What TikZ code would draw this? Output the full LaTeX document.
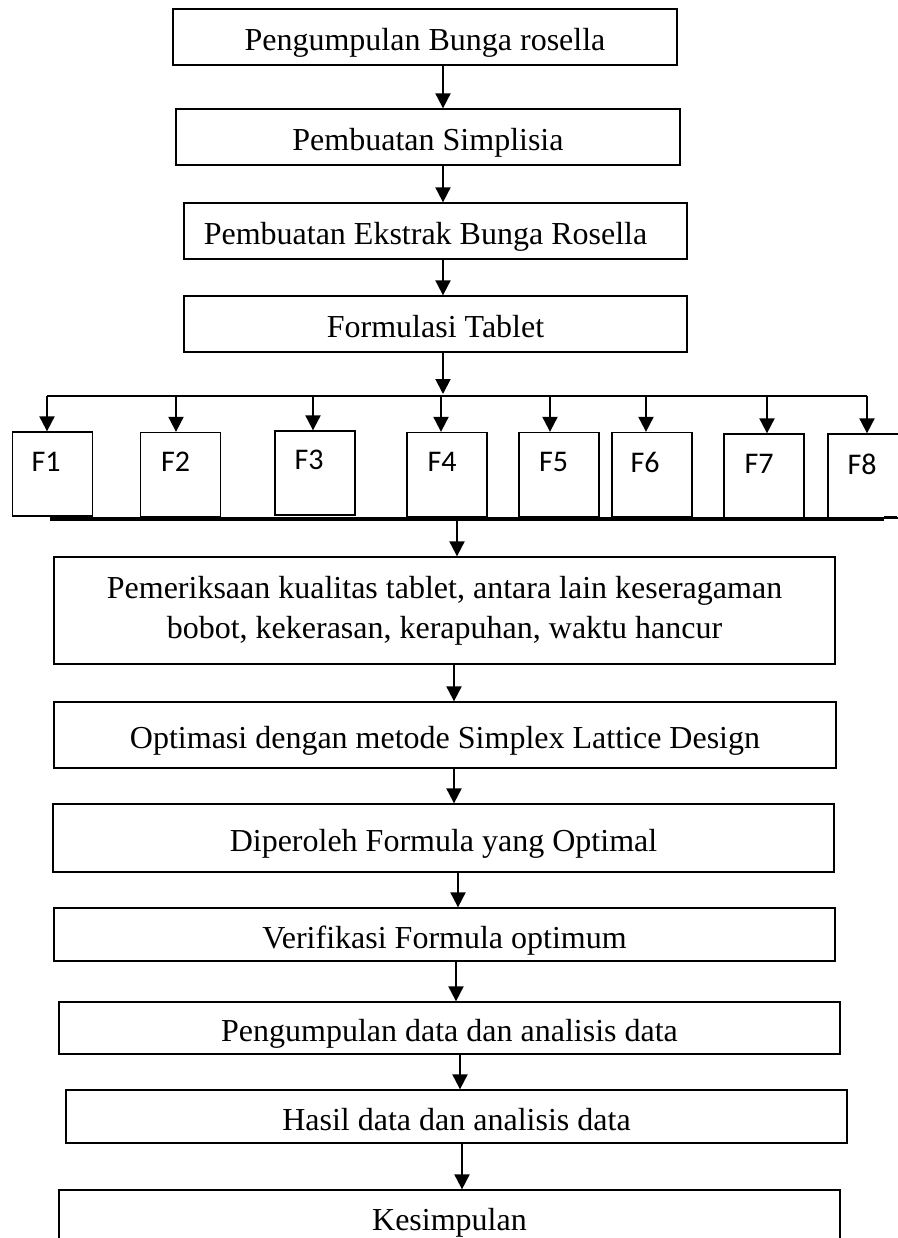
\documentclass[tikz,border=0pt]{standalone}
\usepackage{fontspec}
\setmainfont{Liberation Serif}
\newfontfamily\calib{Carlito}
\usetikzlibrary{arrows.meta}
\begin{document}
\begin{tikzpicture}[x=1pt,y=-1pt,
  boxbase/.style={draw, line width=1.3pt, inner sep=0pt, font=\fontsize{32}{40}\selectfont, align=center},
  box/.style={boxbase, text height=30pt, text depth=3pt},
  fbox/.style={draw, line width=1.3pt, inner sep=0pt, minimum width=80pt, minimum height=84pt},
  flab/.style={font=\calib\fontsize{30}{36}\selectfont, inner sep=0pt},
  arr/.style={line width=2pt, -{Triangle[length=15pt,width=15pt]}},
  ln/.style={line width=2pt},
]
\useasboundingbox (0,0) rectangle (897,1238);

% top chain
\node[box, minimum width=504pt, minimum height=56pt] (b1) at (425,37) {Pengumpulan Bunga rosella};
\node[box, minimum width=504pt, minimum height=56pt] (b2) at (428,137) {Pembuatan Simplisia};
\node[box, minimum width=503pt, minimum height=56pt] (b3) at (435.5,231) {Pembuatan Ekstrak Bunga Rosella\hspace*{20pt}};
\node[box, minimum width=503pt, minimum height=56pt] (b4) at (435.5,324) {Formulasi Tablet};

\coordinate (ax) at (443,0);
\draw[arr] (b1.south -| ax) -- (b2.north -| ax);
\draw[arr] (b2.south -| ax) -- (b3.north -| ax);
\draw[arr] (b3.south -| ax) -- (b4.north -| ax);
\coordinate (bt) at (443,394);
\draw[arr] (b4.south -| ax) -- (bt);

% branch
\coordinate (jl) at (47,396);
\coordinate (jr) at (867,396);
\draw[ln] (jl) -- (jr);

\node[fbox] (f1) at (52.6,474) {};
\node[fbox] (f2) at (180.5,474.5) {};
\node[fbox] (f3) at (315,473) {};
\node[fbox] (f4) at (447,474.5) {};
\node[fbox] (f5) at (559,474.5) {};
\node[fbox] (f6) at (652,474.5) {};
\node[fbox] (f7) at (764,476) {};
\node[fbox] (f8) at (868,476) {};

\node[flab] (t1) at (46,462) {F1};
\node[flab] (t2) at (175.5,462) {F2};
\node[flab] (t3) at (309,459.5) {F3};
\node[flab] (t4) at (442,462) {F4};
\node[flab] (t5) at (553.5,462) {F5};
\node[flab] (t6) at (645,462) {F6};
\node[flab] (t7) at (759,464) {F7};
\node[flab] (t8) at (862,464) {F8};

\foreach \i/\xx in {1/47,2/176,3/313,4/441,5/550,6/646,7/767,8/867}{
  \coordinate (d\i) at (\xx,396);
  \draw[arr] (d\i) -- (f\i.north -| d\i);
}

% thick collecting line
\coordinate (h1) at (50,519);
\coordinate (h2) at (884,519);
\coordinate (h3) at (897,517);
\draw[line width=4pt] (h1) -- (h2);
\draw[line width=1.2pt] (h2 |- h3) -- (h3);

% lower chain
\node[boxbase, minimum width=781pt, minimum height=107pt] (b5) at (444.5,610.5) {Pemeriksaan kualitas tablet, antara lain keseragaman\\bobot, kekerasan, kerapuhan, waktu hancur};
\node[box, minimum width=782pt, minimum height=66pt] (b6) at (445,735) {Optimasi dengan metode Simplex Lattice Design};
\node[box, minimum width=781pt, minimum height=68pt] (b7) at (443.5,838) {Diperoleh Formula yang Optimal};
\node[box, minimum width=781pt, minimum height=53pt] (b8) at (444.5,934.5) {Verifikasi Formula optimum};
\node[box, minimum width=781pt, minimum height=52pt] (b9) at (449.5,1028) {Pengumpulan data dan analisis data};
\node[box, minimum width=781pt, minimum height=53pt] (b10) at (456.5,1116.5) {Hasil data dan analisis data};
\node[box, minimum width=781pt, minimum height=53pt] (b11) at (449.5,1216.5) {Kesimpulan};

\coordinate (m) at (457,521);
\draw[arr] (m) -- (b5.north -| m);
\coordinate (a5) at (454,0);
\draw[arr] (b5.south -| a5) -- (b6.north -| a5);
\draw[arr] (b6.south -| a5) -- (b7.north -| a5);
\coordinate (a7) at (458,0);
\draw[arr] (b7.south -| a7) -- (b8.north -| a7);
\coordinate (a8) at (456,0);
\draw[arr] (b8.south -| a8) -- (b9.north -| a8);
\coordinate (a9) at (460,0);
\draw[arr] (b9.south -| a9) -- (b10.north -| a9);
\coordinate (a10) at (462,0);
\draw[arr] (b10.south -| a10) -- (b11.north -| a10);
\end{tikzpicture}
\end{document}
